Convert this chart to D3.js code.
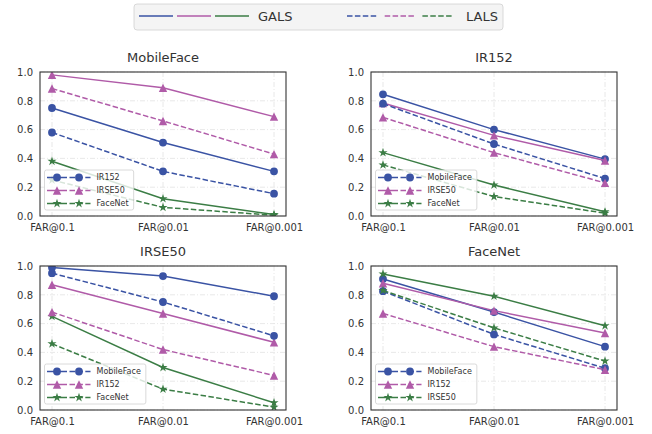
<!DOCTYPE html>
<html><head><meta charset="utf-8">
<script src="https://cdn.jsdelivr.net/npm/d3@7"></script>
<style>body{margin:0;background:#fff;} text{font-family:"DejaVu Sans",sans-serif;fill:#333;}</style>
</head><body><svg id="c" width="652" height="434"></svg>
<script>
const categories = ["FAR@0.1","FAR@0.01","FAR@0.001"];
const yTicks = [0,0.2,0.4,0.6,0.8,1.0];
const panelTitles = ["MobileFace","IR152","IRSE50","FaceNet"];
const seriesNames = [
  ["IR152","IRSE50","FaceNet"],
  ["MobileFace","IRSE50","FaceNet"],
  ["MobileFace","IR152","FaceNet"],
  ["MobileFace","IR152","IRSE50"]
];
const galsValues = [
  [[0.75,0.51,0.31],[0.98,0.89,0.69],[0.38,0.12,0.01]],
  [[0.845,0.60,0.395],[0.785,0.56,0.385],[0.44,0.215,0.03]],
  [[0.99,0.93,0.79],[0.87,0.67,0.47],[0.65,0.295,0.05]],
  [[0.91,0.68,0.44],[0.88,0.69,0.535],[0.945,0.79,0.585]]
];
const lalsValues = [
  [[0.58,0.31,0.155],[0.885,0.66,0.43],[0.25,0.06,0.005]],
  [[0.78,0.50,0.26],[0.685,0.44,0.23],[0.355,0.135,0.02]],
  [[0.95,0.75,0.515],[0.68,0.42,0.24],[0.46,0.145,0.02]],
  [[0.825,0.525,0.29],[0.67,0.44,0.28],[0.83,0.57,0.34]]
];
const colors = ["#3a53a4","#b05ba8","#3b7d45"];
const markerTypes = ["circle","triangle","star"];
const styleLabels = ["GALS","LALS"];

const svg = d3.select("#c");
const W = 246, H = 144;
const panels = [
  {x:40,y:72},{x:371,y:72},{x:40,y:266},{x:371,y:266}
];

function markerPath(type){
  if(type==="circle"){ return d3.symbol(d3.symbolCircle, Math.PI*3.9*3.9)(); }
  if(type==="triangle"){ const w=8.4,h=8.4; return `M0,${-h/2}L${w/2},${h/2}L${-w/2},${h/2}Z`; }
  const R=4.8, r=R*0.382; let p="";
  for(let i=0;i<10;i++){ const a=-Math.PI/2+i*Math.PI/5; const rr=i%2?r:R; p+=(i?"L":"M")+(rr*Math.cos(a)).toFixed(2)+","+(rr*Math.sin(a)).toFixed(2); }
  return p+"Z";
}
const dashPat = "5.5,2.4";
const textColor = "#333";

panels.forEach((P,pi)=>{
  const g = svg.append("g").attr("transform",`translate(${P.x},${P.y})`);
  const x = d3.scalePoint().domain(categories).range([0,W]).padding(0.108);
  const y = d3.scaleLinear().domain([0,1]).range([H,0]);
  const clipId = "clip"+pi;
  g.append("clipPath").attr("id",clipId).append("rect").attr("width",W).attr("height",H);
  const grid = g.append("g");
  yTicks.forEach(t=>grid.append("line").attr("x1",0).attr("x2",W).attr("y1",y(t)).attr("y2",y(t))
    .attr("stroke","#e2e2e2").attr("stroke-width",0.8).attr("stroke-dasharray","5,2,1,2"));
  categories.forEach(c=>grid.append("line").attr("x1",x(c)).attr("x2",x(c)).attr("y1",0).attr("y2",H)
    .attr("stroke","#e2e2e2").attr("stroke-width",0.8).attr("stroke-dasharray","5,2,1,2"));
  const ya = g.append("g").call(d3.axisLeft(y).tickValues(yTicks).tickFormat(d3.format(".1f")).tickSize(0).tickPadding(7));
  ya.select(".domain").remove();
  ya.selectAll("text").attr("font-size",10).attr("fill",textColor).attr("font-family","DejaVu Sans");
  const xa = g.append("g").attr("transform",`translate(0,${H})`).call(d3.axisBottom(x).tickSize(0).tickPadding(8));
  xa.select(".domain").remove();
  xa.selectAll("text").attr("font-size",10).attr("fill",textColor).attr("font-family","DejaVu Sans");
  const line = d3.line().x((d,i)=>x(categories[i])).y(d=>y(d));
  const dg = g.append("g").attr("clip-path",`url(#${clipId})`);
  [galsValues[pi], lalsValues[pi]].forEach((set,si)=>{
    set.forEach((vals,k)=>{
      dg.append("path").attr("d",line(vals)).attr("fill","none").attr("stroke",colors[k])
        .attr("stroke-width",1.5).attr("stroke-dasharray",si?dashPat:null);
      vals.forEach((v,i)=>dg.append("path").attr("d",markerPath(markerTypes[k]))
        .attr("transform",`translate(${x(categories[i])},${y(v)})`).attr("fill",colors[k]));
    });
  });
  g.append("rect").attr("width",W).attr("height",H).attr("fill","none").attr("stroke","#333").attr("stroke-width",1.1);
  g.append("text").attr("x",W/2).attr("y",-10.5).attr("text-anchor","middle").attr("font-size",13).text(panelTitles[pi]);
  const L = 4.5, T = H-46;
  const lg = g.append("g");
  const box = lg.append("rect").attr("x",L).attr("y",T).attr("height",40).attr("rx",2)
    .attr("fill","#fff").attr("fill-opacity",0.8).attr("stroke","#d0d0d0").attr("stroke-width",0.8);
  let maxEnd = 0;
  seriesNames[pi].forEach((name,k)=>{
    const ry = T+7.5+k*13;
    lg.append("line").attr("x1",L+2.5).attr("x2",L+22.5).attr("y1",ry).attr("y2",ry).attr("stroke",colors[k]).attr("stroke-width",1.5);
    lg.append("line").attr("x1",L+25).attr("x2",L+46).attr("y1",ry).attr("y2",ry).attr("stroke",colors[k]).attr("stroke-width",1.5).attr("stroke-dasharray",dashPat);
    [L+12.5,L+34.5].forEach(mx=>lg.append("path").attr("d",markerPath(markerTypes[k])).attr("transform",`translate(${mx},${ry})`).attr("fill",colors[k]));
    const t = lg.append("text").attr("x",L+52).attr("y",ry).attr("dy","0.35em").attr("font-size",8).text(name);
    maxEnd = Math.max(maxEnd, L+52+t.node().getComputedTextLength());
  });
  box.attr("width", maxEnd+5-L);
});

const tl = svg.append("g");
tl.append("rect").attr("x",134).attr("y",4).attr("width",369).attr("height",26).attr("rx",3)
  .attr("fill","#f4f4f4").attr("stroke","#d0d0d0").attr("stroke-width",0.8);
const ly = 16;
colors.forEach((c,k)=>{
  tl.append("line").attr("x1",139+k*38).attr("x2",173+k*38).attr("y1",ly).attr("y2",ly).attr("stroke",c).attr("stroke-width",1.5);
  tl.append("line").attr("x1",347+k*37.7).attr("x2",378.5+k*37.7).attr("y1",ly).attr("y2",ly).attr("stroke",c).attr("stroke-width",1.5).attr("stroke-dasharray",dashPat);
});
tl.append("text").attr("x",258).attr("y",ly).attr("dy","0.35em").attr("font-size",13).text(styleLabels[0]);
tl.append("text").attr("x",466).attr("y",ly).attr("dy","0.35em").attr("font-size",13).text(styleLabels[1]);
</script></body></html>
